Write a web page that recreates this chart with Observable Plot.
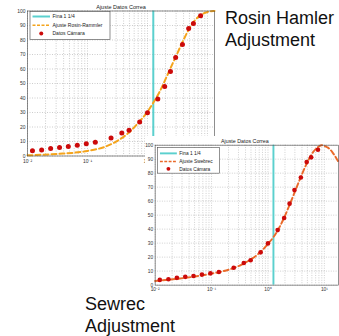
<!DOCTYPE html>
<html><head><meta charset="utf-8">
<script src="https://cdn.jsdelivr.net/npm/d3@7"></script>
<script src="https://cdn.jsdelivr.net/npm/@observablehq/plot@0.6"></script>
<style>
html,body{margin:0;padding:0;background:#fff;overflow:hidden;width:339px;height:336px}
#wrap{position:relative;width:339px;height:336px;overflow:hidden}
.chart{position:absolute;line-height:0}
.lbl{position:absolute;font-family:"Liberation Sans",Arial,sans-serif;font-size:18px;line-height:22px;color:#111;white-space:nowrap}
</style></head><body>
<div id="wrap">
  <div id="c1" class="chart" style="left:0;top:0"></div>
  <div id="c2" class="chart" style="left:145px;top:136px;background:#fff"></div>
  <div class="lbl" style="left:225px;top:7px">Rosin Hamler<br>Adjustment</div>
  <div class="lbl" style="left:85px;top:293px">Sewrec<br>Adjustment</div>
</div>
<script>
// ---- data ----
const chartTitle = "Ajuste Datos Correa";
const sizes   = [0.0121, 0.0172, 0.0243, 0.0342, 0.0479, 0.0676, 0.0955, 0.135, 0.247, 0.373, 0.493, 0.741, 1.0, 1.486, 1.936, 2.415, 2.95, 3.83, 4.86, 5.83, 7.69];
const passing = [3.7, 4.2, 5.2, 5.9, 6.5, 7.5, 8.4, 9.4, 12.4, 15.8, 17.8, 23.4, 29.8, 39.3, 48.0, 58.2, 67.9, 76.9, 87.9, 91.3, 96.7];
const fineSize = 1.25;
const rrX = [0.01, 0.0316, 0.1, 0.2, 0.316, 0.5, 0.708, 1.0, 1.26, 1.58, 2.0, 2.51, 3.16, 3.98, 5.01, 6.31, 7.94, 10.0, 12.6, 13.1];
const rrY = [0.5, 1.4, 3.5, 6.5, 10.5, 16.5, 23.0, 30.5, 37.0, 44.0, 53.0, 62.0, 71.0, 80.0, 88.0, 94.0, 97.5, 99.3, 100, 100];
const swX = [0.01, 0.0316, 0.1, 0.2, 0.316, 0.5, 0.708, 1.0, 1.26, 1.58, 2.0, 2.51, 3.16, 3.98, 5.01, 6.31, 7.94, 8.91, 10.0, 11.2, 12.6, 14.1, 15.8, 17.8];
const swY = [3.0, 5.0, 8.2, 11.0, 14.0, 18.5, 23.0, 29.5, 34.5, 41.0, 49.5, 59.0, 69.0, 79.0, 88.0, 95.0, 99.0, 100, 99.5, 98.5, 97.0, 94.5, 91.5, 88.0];
const xTicks  = [0.01, 0.1, 1, 10];
const xLabels = ["10\u207B\u00B2", "10\u207B\u00B9", "10\u2070", "10\u00B9"];
const yTicks  = [0, 10, 20, 30, 40, 50, 60, 70, 80, 90, 100];
const legendFine = "Fina 1 1/4";
const legendRR = "Ajuste Rosin-Rammler";
const legendSW = "Ajuste Swebrec";
const legendData = "Datos Cámara";

const cyan = "#5bd0ce", red = "#cc0a0a";
const FONT = "'Liberation Sans', Arial, sans-serif";

function makeChart(o) {
  const minor = [];
  for (const d of xTicks) for (let k = 1; k < 10; k++) { const v = d * k; if (v <= o.xmax) minor.push(v); }
  const pts = sizes.map((s, i) => ({x: s, y: passing[i]}));
  const fit = o.fitX.map((v, i) => ({x: v, y: o.fitY[i]}));
  const svg = Plot.plot({
    width: o.width, height: o.height,
    marginLeft: o.ml, marginRight: o.mr, marginTop: o.mt, marginBottom: o.mb,
    style: {fontFamily: FONT, fontSize: "5px", background: "#fff", color: "#333", overflow: "visible"},
    x: {type: "log", domain: [0.01, o.xmax], ticks: xTicks, tickFormat: d => xLabels[xTicks.indexOf(d)], tickSize: 0, tickPadding: 3, label: null},
    y: {domain: [0, 100], ticks: yTicks, tickSize: 0, tickPadding: 2, label: null},
    marks: [
      Plot.ruleX(minor, {stroke: "#9a9a9a", strokeWidth: 0.5, strokeDasharray: "1,1.5"}),
      Plot.ruleY(yTicks, {stroke: "#9a9a9a", strokeWidth: 0.5, strokeDasharray: "1,1.5"}),
      Plot.ruleX([fineSize], {stroke: cyan, strokeWidth: 2}),
      Plot.line(fit, {x: "x", y: "y", stroke: o.fitColor, strokeWidth: 2, strokeDasharray: "5,3", curve: "monotone-x"}),
      Plot.dot(pts, {x: "x", y: "y", r: o.r, fill: red, stroke: "none"}),
      Plot.frame({stroke: "#444", strokeWidth: 0.6}),
      Plot.text([chartTitle], {frameAnchor: "top", dy: -6, dx: o.tdx || 0, fontSize: 5.5, fill: "#222"})
    ]
  });
  // legend box
  const L = o.legend;
  const g = d3.select(svg).append("g").attr("font-family", FONT).attr("font-size", 5)
    .attr("fill", "#222").attr("text-anchor", "start");
  g.append("rect").attr("x", L.x).attr("y", L.y).attr("width", L.w).attr("height", L.h)
    .attr("fill", "#fff").attr("stroke", "#444").attr("stroke-width", 0.6);
  const lx0 = L.x + 2.5, lx1 = L.x + L.sw, tx = L.x + L.sw + 2.5;
  g.append("line").attr("x1", lx0).attr("x2", lx1).attr("y1", L.rows[0]).attr("y2", L.rows[0])
    .attr("stroke", cyan).attr("stroke-width", 2);
  g.append("line").attr("x1", lx0).attr("x2", lx1).attr("y1", L.rows[1]).attr("y2", L.rows[1])
    .attr("stroke", o.fitColor).attr("stroke-width", 1.6).attr("stroke-dasharray", "3,1.5");
  g.append("circle").attr("cx", (lx0 + lx1) / 2).attr("cy", L.rows[2]).attr("r", 2).attr("fill", red);
  [legendFine, o.fitLabel, legendData].forEach((t, i) => {
    g.append("text").attr("x", tx).attr("y", L.rows[i]).attr("dy", "0.35em")
      .attr("text-anchor", "start").text(t);
  });
  return svg;
}

document.getElementById("c1").appendChild(makeChart({
  width: 222, height: 168, ml: 27, mr: 8, mt: 10.5, mb: 12.5, xmax: 13.1,
  fitX: rrX, fitY: rrY, fitColor: "#f4a41c", fitLabel: legendRR, r: 2.5,
  legend: {x: 30, y: 11.5, w: 80, h: 28, sw: 20, rows: [16.5, 25.3, 33.5]}
}));
document.getElementById("c2").appendChild(makeChart({
  width: 201, height: 166, ml: 10, mr: 1, mt: 9, mb: 12, xmax: 17.8,
  fitX: swX, fitY: swY, fitColor: "#ea6a2a", fitLabel: legendSW, r: 2.4, tdx: -2,
  legend: {x: 13, y: 12, w: 64, h: 26.5, sw: 20, rows: [18, 26.5, 34]}
}));
</script>
</body></html>
